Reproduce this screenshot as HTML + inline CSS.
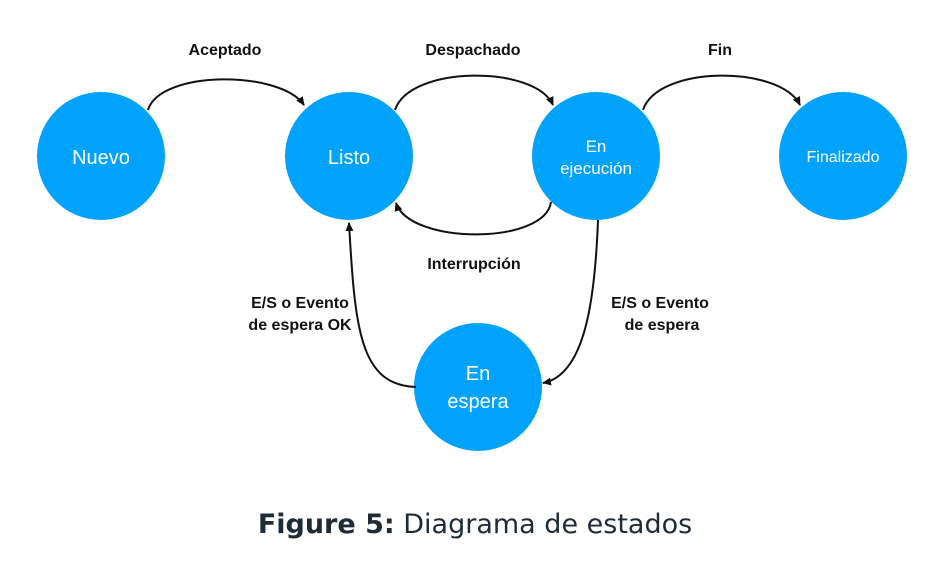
<!DOCTYPE html>
<html><head><style>
body{margin:0;background:#fff;}
svg{display:block}
.l{font-family:"Liberation Sans",Arial,sans-serif;}
</style></head><body>
<svg width="948" height="583" viewBox="0 0 948 583" xmlns="http://www.w3.org/2000/svg">
<defs><marker id="a" markerWidth="10" markerHeight="10" refX="8" refY="5" orient="auto" markerUnits="userSpaceOnUse"><path d="M0,1 L9,5 L0,9 z" fill="#111"/></marker></defs>
<g fill="#00a2fb">
<circle cx="101" cy="156" r="64"/>
<circle cx="349" cy="156" r="64"/>
<circle cx="596" cy="156" r="64"/>
<circle cx="843" cy="156" r="64"/>
<circle cx="478" cy="387" r="64"/>
</g>
<g fill="none" stroke="#111" stroke-width="2" marker-end="url(#a)">
<path d="M148,110 C160,70 280,70 304,105"/>
<path d="M395,110 C410,65 535,65 553,105"/>
<path d="M643,110 C658,65 780,65 800,105"/>
<path d="M551,202 C545,245 410,245 396,203"/>
<path d="M416,387 C360,385 355,330 349,223"/>
<path d="M598,220 C595,300 585,375 543,383"/>
</g>
<g class="l" fill="#fff" text-anchor="middle">
<text x="101" y="164" font-size="20">Nuevo</text>
<text x="349" y="164" font-size="20">Listo</text>
<text x="596" y="152" font-size="17">En</text>
<text x="596" y="174" font-size="17">ejecución</text>
<text x="843" y="162" font-size="16">Finalizado</text>
<text x="478" y="380" font-size="20">En</text>
<text x="478" y="408" font-size="20">espera</text>
</g>
<g class="l" fill="#111" font-weight="bold" font-size="16" text-anchor="middle">
<text x="225" y="55">Aceptado</text>
<text x="473" y="55">Despachado</text>
<text x="720" y="55">Fin</text>
<text x="474" y="269">Interrupción</text>
<text x="300" y="308">E/S o Evento</text>
<text x="300" y="330">de espera OK</text>
<text x="660" y="308">E/S o Evento</text>
<text x="662" y="330">de espera</text>
</g>
<text x="475" y="533" text-anchor="middle" font-family="DejaVu Sans, sans-serif" font-size="27" fill="#1f2b36"><tspan font-weight="bold">Figure 5:</tspan> Diagrama de estados</text>
</svg>
</body></html>
